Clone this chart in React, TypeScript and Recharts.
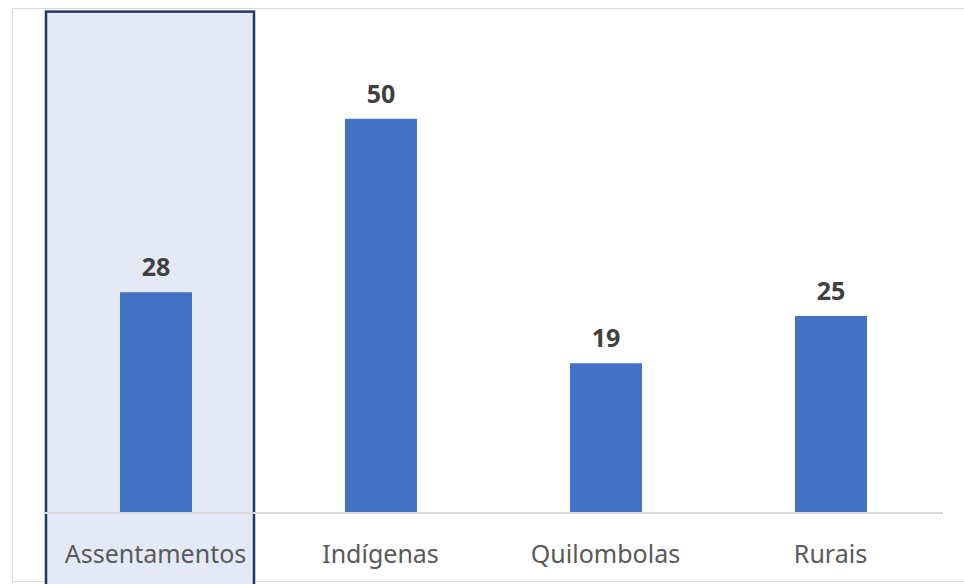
import { Bar, BarChart, LabelList, ReferenceArea, XAxis, YAxis } from 'recharts';

const categories = ['Assentamentos', 'Indígenas', 'Quilombolas', 'Rurais'];
const values = [28, 50, 19, 25];
const highlighted = 'Assentamentos';

const data = categories.map((name, i) => ({ name, value: values[i] }));

const FONT = '"Noto Sans", sans-serif';

function HighlightBox(props: any) {
  const { x, y, width, height } = props;
  return (
    <rect
      x={x + 3}
      y={y}
      width={width - 17}
      height={height}
      fill="#E4EAF5"
      stroke="#1F3864"
      strokeWidth={2.5}
    />
  );
}

export default function App() {
  return (
    <div style={{ position: 'absolute', left: 0, top: 0, width: 964, height: 584, overflow: 'hidden', background: '#fff' }}>
      <div
        style={{
          position: 'absolute',
          left: 12,
          top: 8,
          width: 980,
          height: 574,
          border: '1.5px solid #D9D9D9',
          boxSizing: 'border-box',
        }}
      />
      <div style={{ position: 'absolute', left: 0, top: 0 }}>
        <BarChart width={964} height={584} data={data} margin={{ top: 40, right: 21, bottom: 0, left: 43 }}>
          <ReferenceArea
            x1={highlighted}
            x2={highlighted}
            y1={-10}
            y2={63.6}
            ifOverflow="visible"
            shape={HighlightBox}
          />
          <XAxis
            dataKey="name"
            axisLine={{ stroke: '#D9D9D9', strokeWidth: 2 }}
            tickLine={false}
            tickSize={0}
            tickMargin={32}
            height={71}
            interval={0}
            tick={{ fill: '#595959', fontSize: 25, fontFamily: FONT }}
          />
          <YAxis hide domain={[0, 60]} />
          <Bar dataKey="value" fill="#4472C4" barSize={72} isAnimationActive={false}>
            <LabelList
              dataKey="value"
              position="top"
              offset={16}
              fill="#404040"
              fontSize={25}
              fontWeight="bold"
              fontFamily={FONT}
            />
          </Bar>
        </BarChart>
      </div>
    </div>
  );
}
